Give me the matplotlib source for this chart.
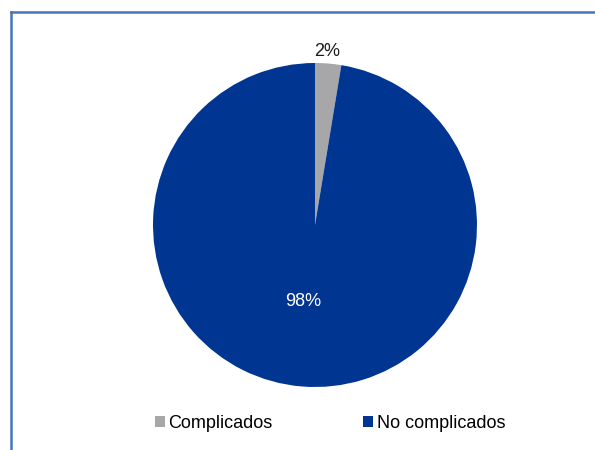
import matplotlib
matplotlib.use("Agg")
import matplotlib.pyplot as plt
from matplotlib.lines import Line2D

categories = ["Complicados", "No complicados"]
values = [2.6, 97.4]
pct_labels = ["2%", "98%"]
colors = ["#a7a7a9", "#003591"]

plt.rcParams['font.family'] = ['Liberation Sans', 'DejaVu Sans']

W, H = 595, 450
fig = plt.figure(figsize=(W / 100, H / 100), dpi=100)

cx, cy, r = 315, 225, 162
ax = fig.add_axes([(cx - r) / W, (H - cy - r) / H, 2 * r / W, 2 * r / H])
wedges, _ = ax.pie(values, colors=colors, startangle=90, counterclock=False,
                   radius=1, wedgeprops=dict(linewidth=0))
ax.set_xlim(-1, 1)
ax.set_ylim(-1, 1)
ax.set_aspect('equal')
ax.axis('off')

# percentage labels
ax.text(0.074, 1.074, pct_labels[0], ha='center', va='center', fontsize=13, color='#1a1a1a')
ax.text(-0.07, -0.475, pct_labels[1], ha='center', va='center', fontsize=13, color='white')

# legend
fig.legend(wedges, categories, loc='center', bbox_to_anchor=(330 / W, 1 - 423 / H),
           ncol=2, frameon=False, fontsize=13, handlelength=0.55, handleheight=0.55,
           handletextpad=0.2, columnspacing=5.0, borderpad=0)

# frame lines (left and top)
fig.add_artist(Line2D([11 / W, 11 / W], [0, 1 - 12 / H], transform=fig.transFigure,
                      color='#4a72bd', linewidth=1.8))
fig.add_artist(Line2D([11 / W, 1], [1 - 12 / H, 1 - 12 / H], transform=fig.transFigure,
                      color='#4a72bd', linewidth=1.8))

fig.savefig("out.png", dpi=100)
